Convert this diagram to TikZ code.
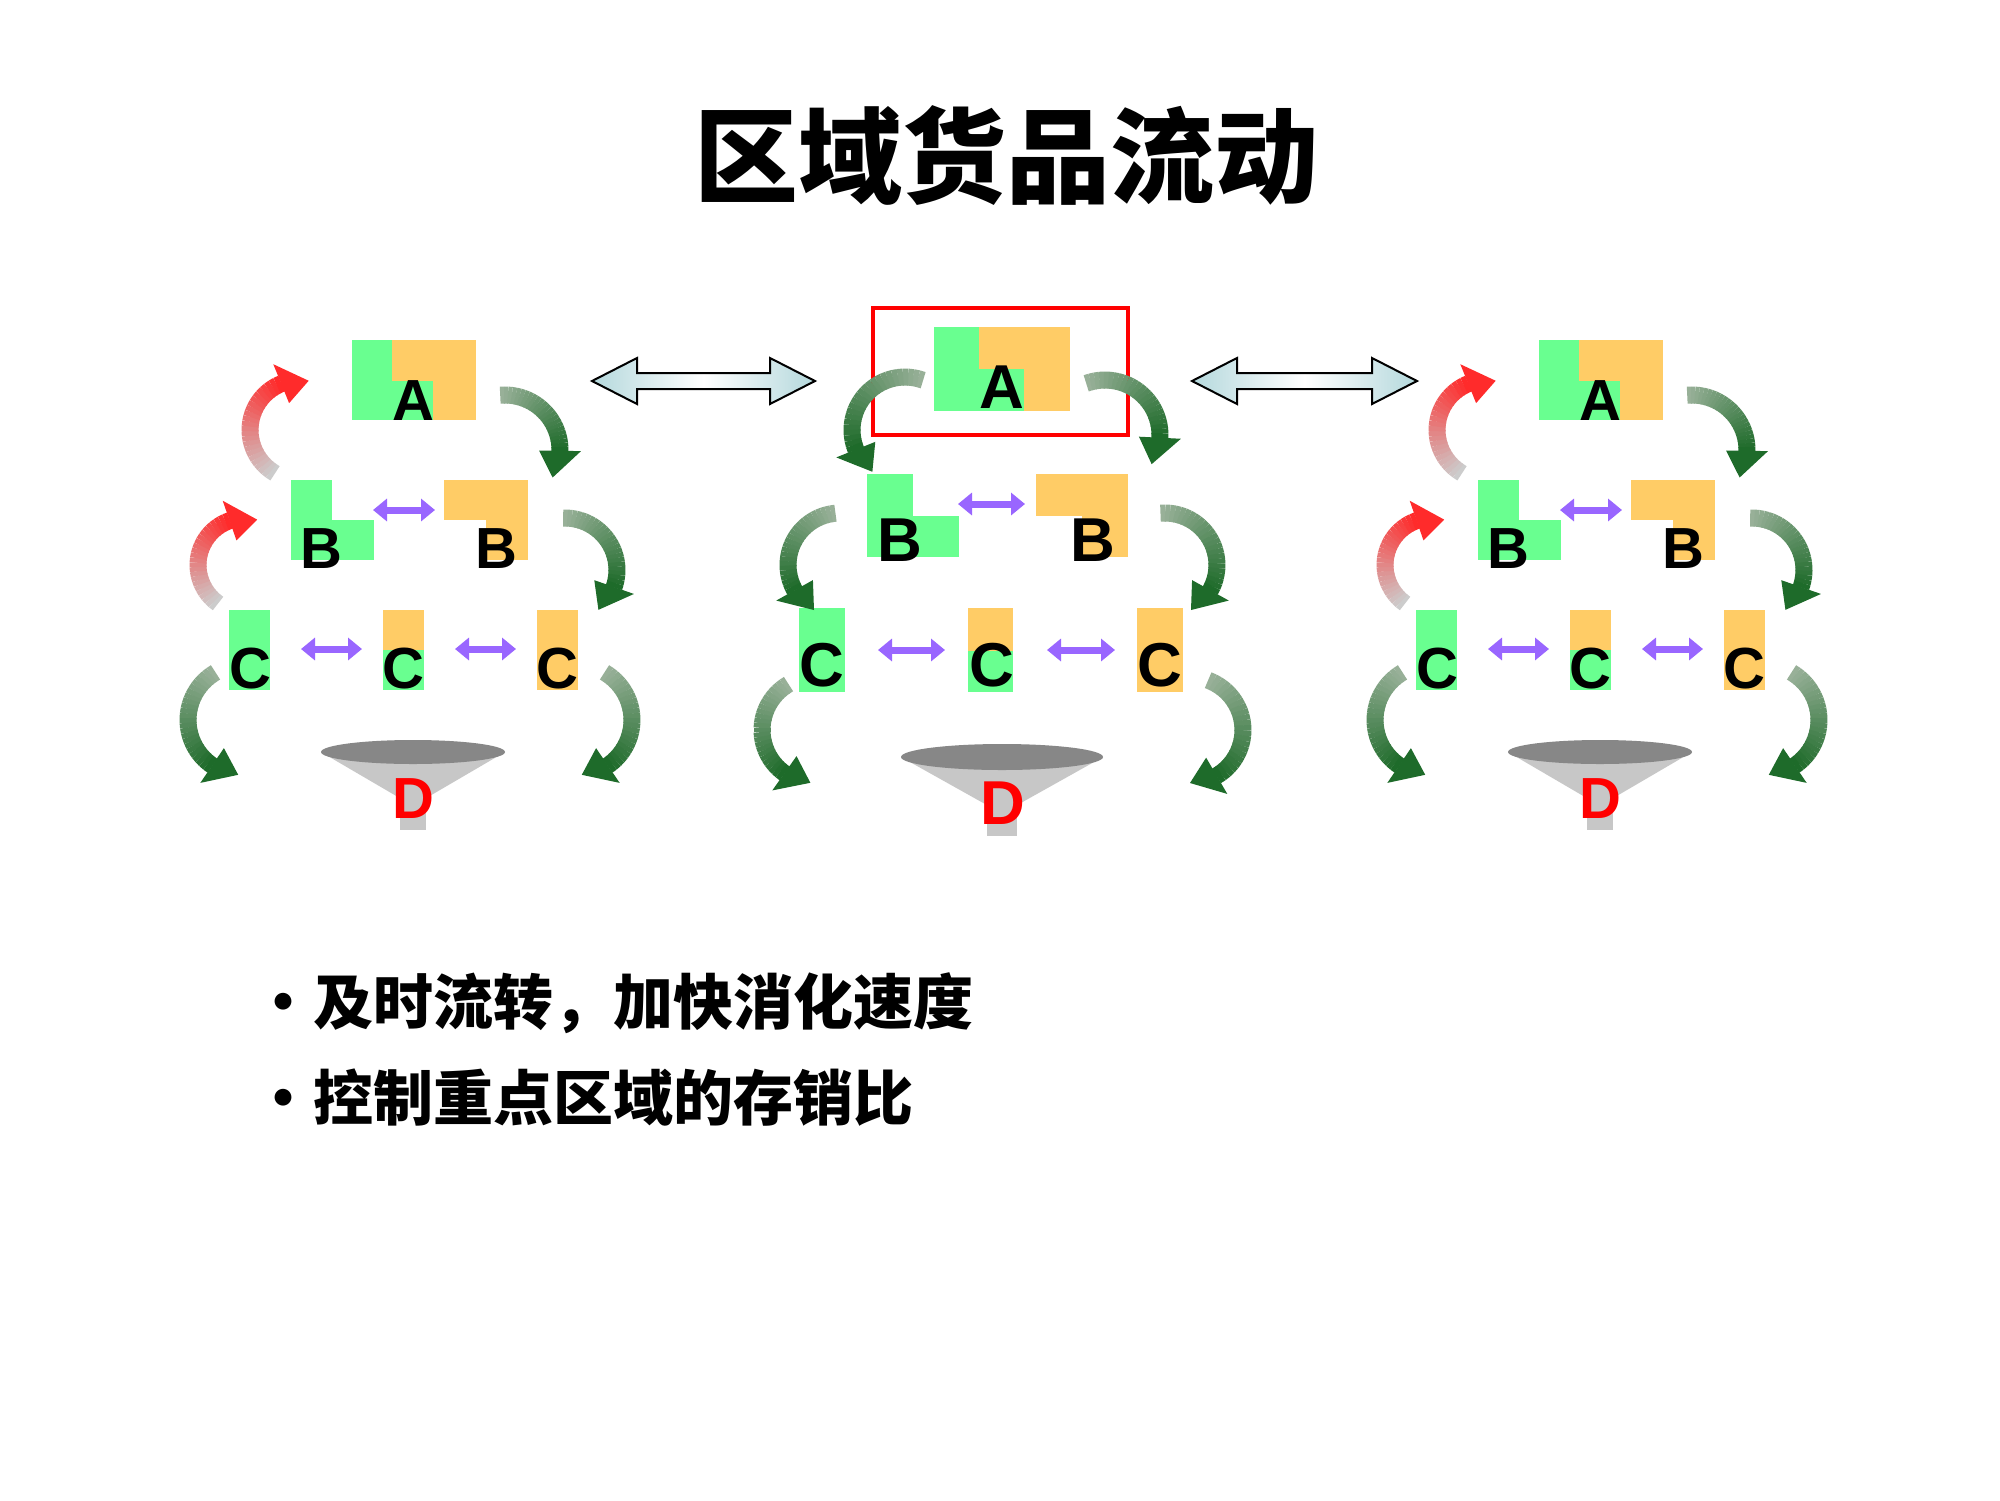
\documentclass[tikz,border=0pt]{standalone}
\usepackage{fontspec}
\setmainfont{Liberation Sans}
\newfontfamily\cjk{Noto Sans CJK SC}
\usetikzlibrary{calc,arrows.meta}
\definecolor{grn}{HTML}{69FF90}
\definecolor{org}{HTML}{FFCC66}
\definecolor{pur}{HTML}{9966FF}
\definecolor{gdark}{HTML}{1E6B2A}
\definecolor{glight}{HTML}{98B098}
\definecolor{rhead}{HTML}{FF2B2B}
\definecolor{rtail}{HTML}{CCCCCC}
\definecolor{lblue}{HTML}{B4D8DC}
\newcommand\carrow[7]{%
  \pgfmathsetmacro\ahd{((#5)-(#4))>0?1:-1}%
  \pgfmathsetmacro\aend{#5-\ahd*28/#3*57.2958}%
  \foreach \i in {0,...,23}{%
    \pgfmathsetmacro\sa{#4+(\aend-(#4))*\i/24}%
    \pgfmathsetmacro\sb{#4+(\aend-(#4))*(\i+1.1)/24}%
    \pgfmathtruncatemacro\pc{100*\i/23}%
    \draw[line width=17pt,#7!\pc!#6] ($(#1,#2)+(\sa:#3)$) arc[start angle=\sa,end angle=\sb,radius=#3];
  }%
  \pgfmathsetmacro\rin{#3-21}\pgfmathsetmacro\rout{#3+21}%
  \fill[#7] ($(#1,#2)+(\aend:\rin)$) -- ($(#1,#2)+(#5:#3)$) -- ($(#1,#2)+(\aend:\rout)$) -- cycle;
}
\tikzset{
  lbl/.style={anchor=base,font=\bfseries\fontsize{58}{58}\selectfont,inner sep=0},
  lblm/.style={anchor=base,font=\bfseries\fontsize{62}{62}\selectfont,inner sep=0},
  dlbl/.style={lbl,text=red},
  parr/.style={pur,line width=7pt,{Triangle[width=22pt,length=14pt]}-{Triangle[width=22pt,length=14pt]}},
  bigarr/.style={draw=black,line width=2pt,left color=lblue,right color=lblue,middle color=white},
  cone/.style={fill=black!22},
  rim/.style={fill=black!47}
}
\newcommand\sidegroup{%
  \fill[org] (352,340) rectangle (476,420);
  \fill[grn] (352,340) rectangle (392,420);
  \fill[grn] (392,381) rectangle (433,420);
  \fill[grn] (291,480) rectangle (332,560);
  \fill[grn] (332,520) rectangle (374,560);
  \fill[org] (444,480) rectangle (528,520);
  \fill[org] (486,520) rectangle (528,560);
  \fill[grn] (229,610) rectangle (270,690);
  \fill[org] (383,610) rectangle (424,650);
  \fill[grn] (383,650) rectangle (424,690);
  \fill[org] (537,610) rectangle (578,690);
  \coordinate (b1) at (373,510); \coordinate (b2) at (435,510);
  \coordinate (c1) at (301,649); \coordinate (c2) at (362,649);
  \coordinate (c3) at (455,649); \coordinate (c4) at (516,649);
  \draw[parr] (b1) -- (b2);
  \draw[parr] (c1) -- (c2);
  \draw[parr] (c3) -- (c4);
  \fill[cone] (321,752) -- (505,752) -- (428,797) -- (398,797) -- cycle;
  \fill[cone] (400,790) rectangle (426,830);
  \fill[rim] (413,752) ellipse[x radius=92,y radius=12];
  \node[lbl] (A) at (413,420) {A};
  \node[lbl] (B1) at (321,568) {B};
  \node[lbl] (B2) at (496,568) {B};
  \node[lbl] (C1) at (250,688) {C};
  \node[lbl] (C2) at (403,688) {C};
  \node[lbl] (C3) at (557,688) {C};
  \node[dlbl] (D) at (413,818) {D};
  \carrow{300}{430}{50}{120}{280}{rtail}{rhead}
  \carrow{245}{565}{47}{125}{285}{rtail}{rhead}
  \carrow{505}{450}{55}{-95}{30}{glight}{gdark}
  \carrow{565}{570}{52}{-92}{50}{glight}{gdark}
  \carrow{243}{720}{55}{-120}{-265}{glight}{gdark}
  \carrow{577}{720}{55}{-60}{85}{glight}{gdark}
}
\begin{document}
\begin{tikzpicture}[x=1pt,y=-1pt]
\useasboundingbox (0,0) rectangle (2000,1500);
\fill[white] (0,0) rectangle (2000,1500);
\node[font=\cjk\bfseries\fontsize{104}{104}\selectfont] (title) at (1006,156) {区域货品流动};
% left and right groups
\begin{scope}[name prefix=l-]\sidegroup\end{scope}
\begin{scope}[xshift=1187pt,name prefix=r-]\sidegroup\end{scope}
% big double arrows
\draw[bigarr] (592,381) -- (637,358) -- (637,373) -- (770,373) -- (770,358) -- (815,381)
  -- (770,404) -- (770,389) -- (637,389) -- (637,404) -- cycle;
\draw[bigarr] (1192,381) -- (1237,358) -- (1237,373) -- (1372,373) -- (1372,358) -- (1417,381)
  -- (1372,404) -- (1372,389) -- (1237,389) -- (1237,404) -- cycle;
% middle group
\fill[org] (934,327) rectangle (1070,411);
\fill[grn] (934,327) rectangle (979,411);
\fill[grn] (979,369) rectangle (1024,411);
\draw[red,line width=3.5pt] (873,308) rectangle (1128,435);
\fill[grn] (867,474) rectangle (913,557);
\fill[grn] (913,516) rectangle (959,557);
\fill[org] (1036,474) rectangle (1128,516);
\fill[org] (1082,516) rectangle (1128,557);
\fill[grn] (799,608) rectangle (845,692);
\fill[org] (968,608) rectangle (1013,651);
\fill[grn] (968,651) rectangle (1013,692);
\fill[org] (1137,608) rectangle (1183,692);
\coordinate (mb1) at (958,504); \coordinate (mb2) at (1025,504);
\coordinate (mc1) at (878,650); \coordinate (mc2) at (945,650);
\coordinate (mc3) at (1047,650); \coordinate (mc4) at (1115,650);
\draw[parr] (mb1) -- (mb2);
\draw[parr] (mc1) -- (mc2);
\draw[parr] (mc3) -- (mc4);
\fill[cone] (901,757) -- (1103,757) -- (1019,804) -- (985,804) -- cycle;
\fill[cone] (987,795) rectangle (1017,836);
\fill[rim] (1002,757) ellipse[x radius=101,y radius=13];
\node[lblm] (mA) at (1002,408) {A};
\node[lblm] (mB1) at (900,561) {B};
\node[lblm] (mB2) at (1093,561) {B};
\node[lblm] (mC1) at (822,686) {C};
\node[lblm] (mC2) at (992,686) {C};
\node[lblm] (mC3) at (1160,686) {C};
\node[lblm,text=red] (mD) at (1003,824) {D};
\carrow{905}{430}{53}{-70}{-232}{glight}{gdark}
\carrow{1105}{435}{55}{-110}{32}{glight}{gdark}
\carrow{840}{565}{52}{-95}{-240}{glight}{gdark}
\carrow{1165}{565}{52}{-95}{60}{glight}{gdark}
\carrow{815}{730}{53}{-120}{-265}{glight}{gdark}
\carrow{1190}{730}{53}{-70}{90}{glight}{gdark}
% bullets
\node[anchor=base west,inner sep=0,font=\cjk\bfseries\fontsize{60}{60}\selectfont] (t1) at (253,1024) {•及时流转，加快消化速度};
\node[anchor=base west,inner sep=0,font=\cjk\bfseries\fontsize{60}{60}\selectfont] (t2) at (253,1120) {•控制重点区域的存销比};
\end{tikzpicture}
\end{document}
